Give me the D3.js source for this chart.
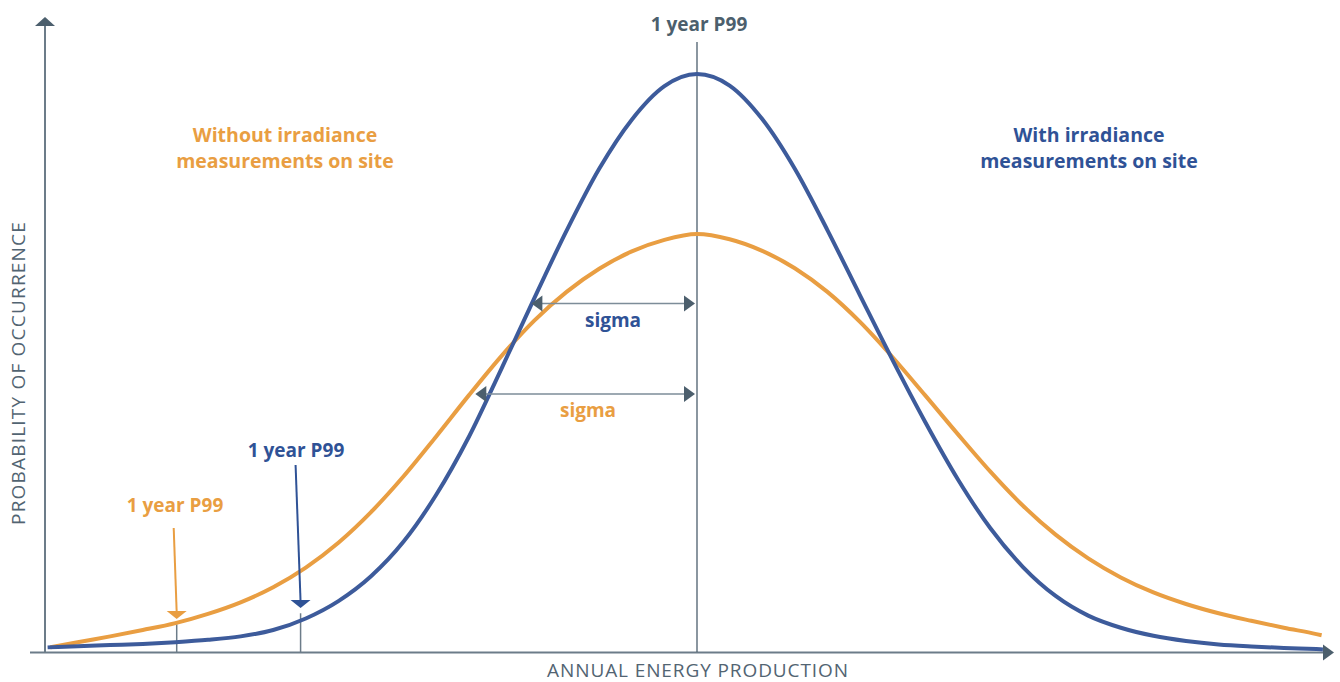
<!DOCTYPE html>
<html>
<head>
<meta charset="utf-8">
<script src="https://cdn.jsdelivr.net/npm/d3@7"></script>
<style>
  html, body { margin: 0; padding: 0; background: #ffffff; }
  svg { display: block; }
  text { font-family: "Open Sans", "Noto Sans", sans-serif; }
</style>
</head>
<body>
<svg id="chart" width="1340" height="682"></svg>
<script>
// ---- Data (arbitrary units) ----
const blueX = [0.2, 2.5, 5, 7.5, 10, 12.5, 15, 17.5, 20, 22.5, 25, 27.5, 30, 32.5, 35, 37.5, 40, 42.5, 45, 47.5, 50,
               52.5, 55, 57.5, 60, 62.5, 65, 67.5, 70, 72.5, 75, 77.5, 80, 82.5, 85, 87.5, 90, 92.5, 95, 97.5, 98];
const blueY = [0.8, 1.0, 1.2, 1.4, 1.7, 2.1, 2.7, 3.8, 5.8, 8.8, 13.1, 19.1, 27.2, 37.2, 49.0, 61.1, 72.9, 83.6, 92.1, 97.9, 100,
               98.0, 92.2, 83.6, 73.0, 61.7, 50.5, 39.8, 29.9, 21.4, 14.7, 9.7, 6.3, 4.2, 2.8, 1.9, 1.3, 0.95, 0.7, 0.5, 0.45];
const orangeX = [0.4, 2.5, 5, 7.5, 10, 12.5, 15, 17.5, 20, 22.5, 25, 27.5, 30, 32.5, 35, 37.5, 40, 42.5, 45, 47.5, 50,
                 52.5, 55, 57.5, 60, 62.5, 65, 67.5, 70, 72.5, 75, 77.5, 80, 82.5, 85, 87.5, 90, 92.5, 95, 97.5, 97.9];
const orangeY = [0.8, 1.7, 2.7, 3.8, 5.0, 6.6, 8.6, 11.2, 14.6, 18.9, 24.2, 30.4, 37.3, 44.4, 51.2, 57.3, 62.3, 66.3, 69.3, 71.3, 72.3,
                 71.4, 69.4, 66.4, 62.3, 57.1, 51.0, 44.4, 37.7, 31.2, 25.3, 20.3, 16.2, 12.9, 10.3, 8.3, 6.7, 5.4, 4.2, 3.1, 2.9];

const meanX = 50;              // common centre line ("1 year P99" at top)
const sigmaBlue = 12.7;        // half-width shown by blue sigma arrow
const sigmaOrange = 17.0;      // half-width shown by orange sigma arrow
const p99BlueX = 19.6;
const p99BlueY = 6.7;
const p99OrangeX = 10.1;
const p99OrangeY = 4.8;

const labels = {
  top: "1 year P99",
  p99: "1 year P99",
  sigma: "sigma",
  without: ["Without irradiance", "measurements on site"],
  with: ["With irradiance", "measurements on site"],
  xTitle: "ANNUAL ENERGY PRODUCTION",
  yTitle: "PROBABILITY OF OCCURRENCE"
};

// ---- Styles ----
const BLUE = "#3d5b9b";
const BLUE_TEXT = "#2f5296";
const ORANGE = "#e99e42";
const AXIS = "#6c7c89";
const DARK = "#4c5f6d";
const TEXT_GRAY = "#526472";

const svg = d3.select("#chart");
const x = d3.scaleLinear().domain([0, 100]).range([45, 1349]);
const y = d3.scaleLinear().domain([0, 100]).range([652, 74]);

// ---- Axes ----
const x0 = x(0), yBase = y(0);
svg.append("line").attr("x1", x0).attr("x2", x0).attr("y1", yBase).attr("y2", 25)
  .attr("stroke", AXIS).attr("stroke-width", 2);
svg.append("path").attr("d", `M${x0},17 L${x0 + 10},26 L${x0 - 10},26 Z`).attr("fill", DARK);

svg.append("line").attr("x1", 30).attr("x2", 1324).attr("y1", yBase + 0.5).attr("y2", yBase + 0.5)
  .attr("stroke", AXIS).attr("stroke-width", 2);
svg.append("path").attr("d", `M1334,${yBase + 0.5} L1323,${yBase - 7.5} L1323,${yBase + 8.5} Z`).attr("fill", DARK);

// centre line
svg.append("line").attr("x1", x(meanX)).attr("x2", x(meanX)).attr("y1", 42).attr("y2", yBase)
  .attr("stroke", DARK).attr("stroke-width", 1.3);

// P99 tick lines
svg.append("line").attr("x1", x(p99OrangeX)).attr("x2", x(p99OrangeX)).attr("y1", y(p99OrangeY)).attr("y2", yBase)
  .attr("stroke", AXIS).attr("stroke-width", 1.5);
svg.append("line").attr("x1", x(p99BlueX)).attr("x2", x(p99BlueX)).attr("y1", y(p99BlueY)).attr("y2", yBase)
  .attr("stroke", AXIS).attr("stroke-width", 1.5);

// ---- Curves ----
const line = d3.line().x(d => x(d[0])).y(d => y(d[1])).curve(d3.curveMonotoneX);
svg.append("path").datum(orangeX.map((v, i) => [v, orangeY[i]]))
  .attr("d", line).attr("fill", "none").attr("stroke", ORANGE).attr("stroke-width", 4)
  .attr("stroke-linejoin", "round");
svg.append("path").datum(blueX.map((v, i) => [v, blueY[i]]))
  .attr("d", line).attr("fill", "none").attr("stroke", BLUE).attr("stroke-width", 4)
  .attr("stroke-linejoin", "round");

// ---- Sigma arrows ----
function sigmaArrow(sig, yy, color, labelX, labelY) {
  const xl = x(meanX - sig), xr = x(meanX) - 2;
  svg.append("line").attr("x1", xl + 8).attr("x2", xr - 8).attr("y1", yy).attr("y2", yy)
    .attr("stroke", "#7d8d99").attr("stroke-width", 1.6);
  svg.append("path").attr("d", `M${xl},${yy} L${xl + 11},${yy - 8} L${xl + 11},${yy + 8} Z`).attr("fill", DARK);
  svg.append("path").attr("d", `M${xr},${yy} L${xr - 11},${yy - 8} L${xr - 11},${yy + 8} Z`).attr("fill", DARK);
  svg.append("text").attr("x", labelX).attr("y", labelY).attr("text-anchor", "middle")
    .attr("font-size", 19).attr("font-weight", 700).attr("fill", color).text(labels.sigma);
}
sigmaArrow(sigmaBlue, 303.5, BLUE_TEXT, 613, 327);
sigmaArrow(sigmaOrange, 394, ORANGE, 588, 417);

// ---- P99 arrows ----
function downArrow(xTop, yTop, xTip, yTip, color) {
  svg.append("line").attr("x1", xTop).attr("y1", yTop).attr("x2", xTip).attr("y2", yTip - 6)
    .attr("stroke", color).attr("stroke-width", 2);
  svg.append("path").attr("d", `M${xTip},${yTip} L${xTip - 10},${yTip - 8} L${xTip + 10},${yTip - 8} Z`).attr("fill", color);
}
downArrow(x(p99OrangeX) - 3, 528, x(p99OrangeX), 619, ORANGE);
downArrow(x(p99BlueX) - 5, 465, x(p99BlueX), 608, BLUE_TEXT);

// ---- Text ----
svg.append("text").attr("x", 699).attr("y", 31).attr("text-anchor", "middle")
  .attr("font-size", 19).attr("font-weight", 700).attr("fill", DARK).text(labels.top);
svg.append("text").attr("x", 296).attr("y", 457).attr("text-anchor", "middle")
  .attr("font-size", 19).attr("font-weight", 700).attr("fill", BLUE_TEXT).text(labels.p99);
svg.append("text").attr("x", 175).attr("y", 512).attr("text-anchor", "middle")
  .attr("font-size", 19).attr("font-weight", 700).attr("fill", ORANGE).text(labels.p99);

labels.without.forEach((t, i) => svg.append("text").attr("x", 285).attr("y", 142 + i * 26)
  .attr("text-anchor", "middle").attr("font-size", 19.5).attr("font-weight", 700).attr("fill", ORANGE).text(t));
labels.with.forEach((t, i) => svg.append("text").attr("x", 1089).attr("y", 142 + i * 26)
  .attr("text-anchor", "middle").attr("font-size", 19.5).attr("font-weight", 700).attr("fill", BLUE_TEXT).text(t));

svg.append("text").attr("x", 698).attr("y", 677).attr("text-anchor", "middle")
  .attr("font-size", 19).attr("font-weight", 500).attr("letter-spacing", 0.9).attr("fill", TEXT_GRAY).text(labels.xTitle);
svg.append("text").attr("transform", "translate(25,373) rotate(-90)").attr("text-anchor", "middle")
  .attr("font-size", 19).attr("letter-spacing", 1.2).attr("fill", TEXT_GRAY).text(labels.yTitle);
</script>
</body>
</html>
